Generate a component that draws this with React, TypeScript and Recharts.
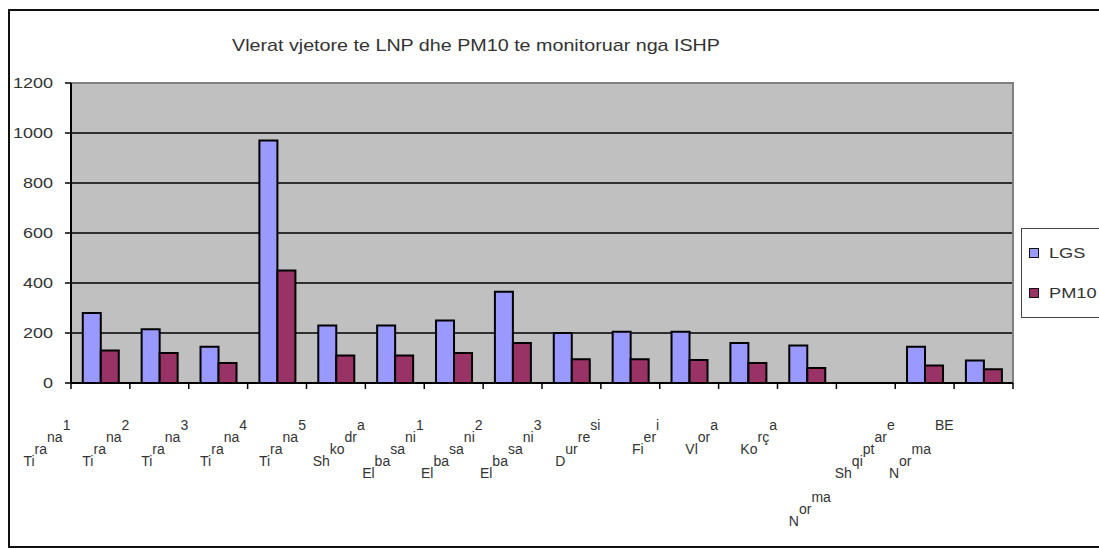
import React from "react";
import {
  BarChart,
  Bar,
  XAxis,
  YAxis,
  CartesianGrid,
  ReferenceArea,
  ReferenceLine,
} from "recharts";

const categories = [
  "Tirana1", "Tirana2", "Tirana3", "Tirana4", "Tirana5", "Shkodra",
  "Elbasani1", "Elbasani2", "Elbasani3", "Durresi", "Fieri", "Vlora",
  "Korça", "", "Norma Shqiptare", "Norma BE",
];
const lgsValues = [280, 215, 145, 970, 230, 230, 250, 365, 200, 205, 205, 160, 150, null, 145, 90];
const pm10Values = [130, 120, 80, 450, 110, 110, 120, 160, 95, 95, 92, 80, 60, null, 70, 55];

// staircase pieces of each category label, as the old spreadsheet drew them
const tickPieces = [
  ["Ti", "ra", "na", "1"],
  ["Ti", "ra", "na", "2"],
  ["Ti", "ra", "na", "3"],
  ["Ti", "ra", "na", "4"],
  ["Ti", "ra", "na", "5"],
  ["Sh", "ko", "dr", "a"],
  ["El", "ba", "sa", "ni", "1"],
  ["El", "ba", "sa", "ni", "2"],
  ["El", "ba", "sa", "ni", "3"],
  ["D", "ur", "re", "si"],
  ["Fi", "er", "i"],
  ["Vl", "or", "a"],
  ["Ko", "rç", "a"],
  [],
  ["N", "or", "ma", " ", "Sh", "qi", "pt", "ar", "e"],
  ["N", "or", "ma", " ", "BE"],
];
const yTicks = [0, 200, 400, 600, 800, 1000, 1200];
const gridValues = [200, 400, 600, 800, 1000];
const title = "Vlerat vjetore te LNP dhe PM10 te monitoruar nga ISHP";

const series = [
  { key: "LGS", color: "#9999ff" },
  { key: "PM10", color: "#993366" },
];

const data = categories.map((name, i) => ({
  name,
  LGS: lgsValues[i],
  PM10: pm10Values[i],
}));

const FONT = "'Liberation Sans', Arial, sans-serif";
// how far the small x tick marks hang under the axis, in y units
const MARK_DEPTH = -24;

const StairTick = (props: any) => {
  const { x, y, index } = props;
  const pieces = tickPieces[index] || [];
  const step = 12;
  return (
    <text
      x={x - 30}
      y={y + 39 + (pieces.length - 1) * step}
      textAnchor="end"
      fontSize={14}
      fill="#333"
      fontFamily={FONT}
      style={{ whiteSpace: "pre" }}
    >
      {pieces.map((p, i) => (
        <tspan key={i} dy={i === 0 ? 0 : -step}>{p}</tspan>
      ))}
    </text>
  );
};

const YTick = (props: any) => {
  const { x, y, payload } = props;
  return (
    <g transform={`translate(${x - 10},${y})`}>
      <text transform="scale(1.2,1)" textAnchor="end" dy={5} fontSize={15} fill="#333" fontFamily={FONT}>
        {payload.value}
      </text>
    </g>
  );
};

const LegendBox = () => (
  <div
    style={{
      position: "absolute",
      left: 1011,
      top: 217,
      border: "1px solid #444",
      background: "#fff",
      width: 100,
      height: 90,
      boxSizing: "border-box",
      fontFamily: FONT,
      fontSize: 14,
      color: "#333",
      paddingTop: 16,
    }}
  >
    {series.map((s) => (
      <div key={s.key} style={{ display: "flex", alignItems: "center", height: 16, marginBottom: 24 }}>
        <span
          style={{
            display: "inline-block",
            width: 8,
            height: 8,
            marginLeft: 7,
            background: s.color,
            border: "1px solid #111",
          }}
        />
        <span style={{ marginLeft: 10, transform: "scaleX(1.3)", transformOrigin: "left center" }}>{s.key}</span>
      </div>
    ))}
  </div>
);

export default function App() {
  return (
    <div
      style={{
        position: "absolute",
        left: 8,
        top: 9,
        width: 1091,
        height: 539,
        borderTop: "2px solid #111",
        borderLeft: "2px solid #111",
        borderBottom: "2px solid #111",
        boxSizing: "border-box",
        overflow: "hidden",
        background: "#fff",
      }}
    >
      <BarChart
        width={1089}
        height={535}
        data={data}
        margin={{ top: 72, right: 86, bottom: 13, left: 0 }}
        barCategoryGap="20%"
        barGap={0}
      >
        <CartesianGrid
          vertical={false}
          fill="#c0c0c0"
          fillOpacity={1}
          stroke="#000"
          strokeWidth={1.5}
          horizontalValues={gridValues}
        />
        <ReferenceArea y1={0} y2={1200} fill="none" stroke="#808080" strokeWidth={2} />
        <XAxis
          dataKey="name"
          interval={0}
          height={150}
          tickSize={6}
          tickLine={false}
          axisLine={{ stroke: "#000", strokeWidth: 2 }}
          tick={<StairTick />}
        />
        <YAxis
          width={61}
          domain={[0, 1200]}
          ticks={yTicks}
          allowDataOverflow
          tickSize={6}
          axisLine={{ stroke: "#000", strokeWidth: 2 }}
          tickLine={{ stroke: "#000", strokeWidth: 1.5 }}
          tick={<YTick />}
        />
        {series.map((s) => (
          <Bar
            key={s.key}
            dataKey={s.key}
            fill={s.color}
            stroke="#000"
            strokeWidth={2}
            isAnimationActive={false}
          />
        ))}
        {categories.map((c, i) => (
          <ReferenceLine
            key={`edge-${i}`}
            segment={[{ x: c, y: 0 }, { x: c, y: MARK_DEPTH }]}
            position="start"
            stroke="#000"
            strokeWidth={1.5}
            ifOverflow="visible"
          />
        ))}
        <ReferenceLine
          segment={[
            { x: categories[categories.length - 1], y: 0 },
            { x: categories[categories.length - 1], y: MARK_DEPTH },
          ]}
          position="end"
          stroke="#000"
          strokeWidth={1.5}
          ifOverflow="visible"
        />
      </BarChart>
      <LegendBox />
      <svg
        width={1089}
        height={80}
        style={{ position: "absolute", left: 0, top: 0, pointerEvents: "none" }}
      >
        <text
          x={222}
          y={40}
          fontSize={17}
          fill="#333"
          fontFamily={FONT}
          textLength={488}
          lengthAdjust="spacingAndGlyphs"
        >
          {title}
        </text>
      </svg>
    </div>
  );
}
